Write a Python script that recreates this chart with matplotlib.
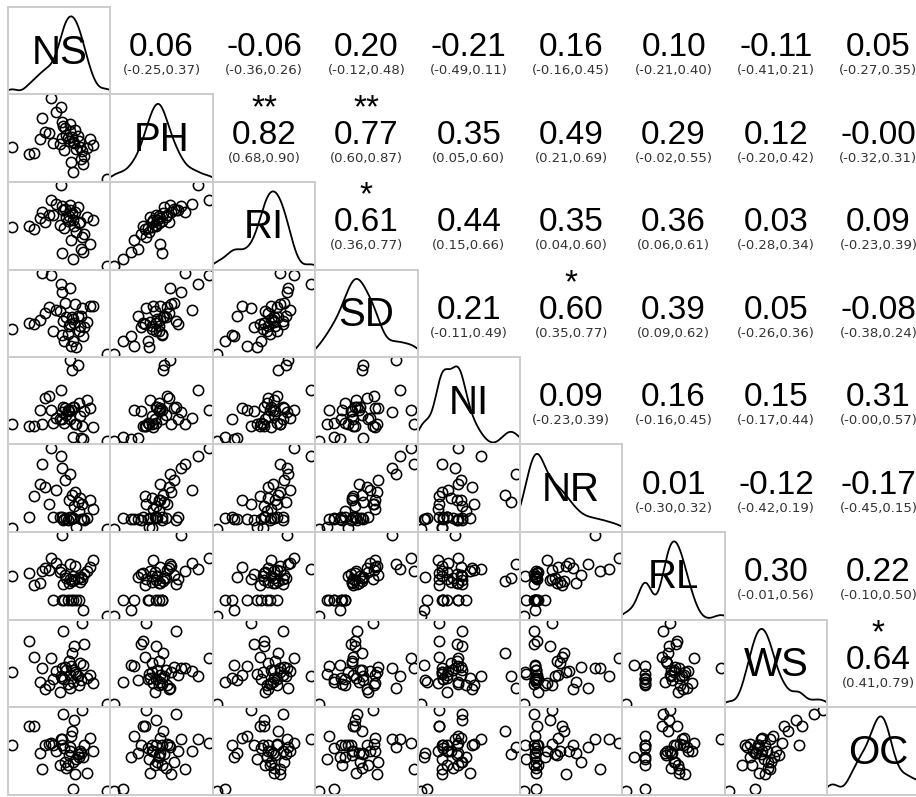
import numpy as np
import matplotlib
matplotlib.use('Agg')
import matplotlib.pyplot as plt

# Variablen (geschaetzte Werte, 40 Beobachtungen)
names = ['NS', 'PH', 'RI', 'SD', 'NI', 'NR', 'RL', 'WS', 'OC']

NS = [60, 52, 38, 66, 57, 70, 30, 62, 58, 48, 64, 25, 55, 50, 72, 61, 45, 67, 56, 35,
      63, 53, 78, 59, 49, 20, 65, 54, 69, 42, 51, 75, 40, 60, 5, 57, 68, 50, 32, 90]
PH = [45, 38, 52, 41, 60, 33, 47, 55, 28, 43, 50, 36, 48, 62, 40, 44, 70, 31, 46, 53,
      39, 57, 42, 49, 74, 35, 46, 51, 26, 44, 58, 47, 82, 20, 41, 54, 37, 48, 65, 14]
RI = [62, 55, 66, 60, 70, 50, 63, 68, 45, 58, 72, 54, 61, 73, 64, 57, 75, 38, 65, 60,
      52, 71, 62, 67, 90, 57, 59, 64, 36, 66, 70, 42, 78, 30, 56, 74, 48, 35, 68, 24]
SD = [33, 14, 43, 27, 28, 26, 32, 45, 10, 39, 35, 28, 20, 56, 30, 29, 40, 35, 27, 38,
      9, 46, 44, 34, 62, 29, 22, 34, 18, 22, 31, 44, 70, 14, 24, 59, 42, 19, 72, 3]
NI = [42, 28, 51, 34, 31, 38, 39, 27, 39, 31, 78, 25, 39, 37, 48, 42, 32, 15, 38, 49,
      27, 41, 24, 74, 56, 25, 45, 35, 14, 28, 42, 41, 39, 16, 27, 82, 25, 31, 27, 12]
NR = [13, 12, 30, 38, 14, 11, 55, 45, 12, 15, 33, 40, 11, 75, 13, 28, 48, 12, 35, 52,
      2, 60, 25, 42, 90, 14, 22, 13, 12, 15, 11, 36, 100, 13, 1, 68, 30, 14, 80, 0]
RL = [50, 25, 56, 44, 47, 52, 42, 60, 25, 54, 48, 40, 25, 92, 55, 46, 63, 49, 43, 58,
      25, 51, 66, 45, 57, 53, 25, 48, 15, 25, 41, 59, 68, 25, 50, 62, 47, 25, 55, 8]
WS = [42, 35, 30, 47, 38, 62, 33, 40, 45, 25, 37, 52, 31, 43, 36, 60, 41, 34, 49, 27,
      39, 44, 32, 55, 37, 64, 30, 42, 46, 35, 72, 38, 51, 33, 40, 28, 78, 36, 43, 16]
OC = [42, 54, 57, 51, 51, 56, 50, 32, 64, 40, 49, 72, 40, 61, 33, 77, 51, 50, 48, 56,
      45, 42, 51, 68, 61, 72, 46, 37, 46, 56, 82, 62, 58, 20, 56, 55, 85, 56, 36, 18]

# Obere Dreiecksmatrix, zeilenweise: r, Konfidenzintervall, Sterne
r_vals = ['0.06', '-0.06', '0.20', '-0.21', '0.16', '0.10', '-0.11', '0.05',
          '0.82', '0.77', '0.35', '0.49', '0.29', '0.12', '-0.00',
          '0.61', '0.44', '0.35', '0.36', '0.03', '0.09',
          '0.21', '0.60', '0.39', '0.05', '-0.08',
          '0.09', '0.16', '0.15', '0.31',
          '0.01', '-0.12', '-0.17',
          '0.30', '0.22',
          '0.64']
ci_lo = ['-0.25', '-0.36', '-0.12', '-0.49', '-0.16', '-0.21', '-0.41', '-0.27',
         '0.68', '0.60', '0.05', '0.21', '-0.02', '-0.20', '-0.32',
         '0.36', '0.15', '0.04', '0.06', '-0.28', '-0.23',
         '-0.11', '0.35', '0.09', '-0.26', '-0.38',
         '-0.23', '-0.16', '-0.17', '-0.00',
         '-0.30', '-0.42', '-0.45',
         '-0.01', '-0.10',
         '0.41']
ci_hi = ['0.37', '0.26', '0.48', '0.11', '0.45', '0.40', '0.21', '0.35',
         '0.90', '0.87', '0.60', '0.69', '0.55', '0.42', '0.31',
         '0.77', '0.66', '0.60', '0.61', '0.34', '0.39',
         '0.49', '0.77', '0.62', '0.36', '0.24',
         '0.39', '0.45', '0.44', '0.57',
         '0.32', '0.19', '0.15',
         '0.56', '0.50',
         '0.79']
stars = ['', '', '', '', '', '', '', '',
         '**', '**', '', '', '', '', '',
         '*', '', '', '', '', '',
         '', '*', '', '', '',
         '', '', '', '',
         '', '', '',
         '', '',
         '*']

data = [np.array(v, dtype=float) for v in [NS, PH, RI, SD, NI, NR, RL, WS, OC]]
n_var = len(names)

plt.rcParams['font.family'] = ['Liberation Sans', 'DejaVu Sans']

fig = plt.figure(figsize=(9.16, 7.97), dpi=100)
W, H = 916.0, 797.0
x0, y0 = 8.0, 7.0
pw, ph = 102.4, 87.5
border = '#cccccc'


def lims(v):
    lo, hi = v.min(), v.max()
    pad = (hi - lo) * 0.04
    return lo - pad, hi + pad


def kde(v, grid):
    # Gauss-Kern, Bandbreite nach Silverman
    n = len(v)
    iqr = np.subtract(*np.percentile(v, [75, 25]))
    bw = 0.9 * min(v.std(ddof=1), iqr / 1.34) * n ** -0.2
    z = (grid[:, None] - v[None, :]) / bw
    d = np.exp(-0.5 * z ** 2).sum(axis=1)
    return d / d.max()


k = 0
upper = {}
for i in range(n_var):
    for j in range(i + 1, n_var):
        upper[(i, j)] = k
        k += 1

for i in range(n_var):
    for j in range(n_var):
        rect = [(x0 + j * pw) / W, 1 - (y0 + (i + 1) * ph) / H, pw / W, ph / H]
        ax = fig.add_axes(rect)
        ax.set_xticks([])
        ax.set_yticks([])
        for s in ax.spines.values():
            s.set_color(border)
            s.set_linewidth(1.4)
        if i > j:
            ax.plot(data[j], data[i], 'o', ms=7.4, mfc='none', mec='black', mew=1.15)
            ax.set_xlim(*lims(data[j]))
            ax.set_ylim(*lims(data[i]))
        elif i == j:
            xl = lims(data[i])
            grid = np.linspace(xl[0] - 30, xl[1] + 30, 400)
            ax.plot(grid, kde(data[i], grid), color='black', lw=1.3)
            ax.set_xlim(*xl)
            ax.set_ylim(0, 1.12)
            ax.text(0.5, 0.48, names[i], transform=ax.transAxes, ha='center',
                    va='center', fontsize=29, color='black')
        else:
            ax.axis('off')
            idx = upper[(i, j)]
            # Sterne und r-Wert als ein zweizeiliger Text
            label = r_vals[idx] if not stars[idx] else stars[idx] + '\n' + r_vals[idx]
            ax.text(0.5, 0.435, label, transform=ax.transAxes, ha='center',
                    va='baseline', fontsize=24, color='black', linespacing=0.84,
                    multialignment='center')
            ax.text(0.5, 0.27, f'({ci_lo[idx]},{ci_hi[idx]})', transform=ax.transAxes,
                    ha='center', va='center', fontsize=9.5, color='#333333',
                    family='DejaVu Sans')

plt.savefig('out.png', dpi=100)
plt.close()
